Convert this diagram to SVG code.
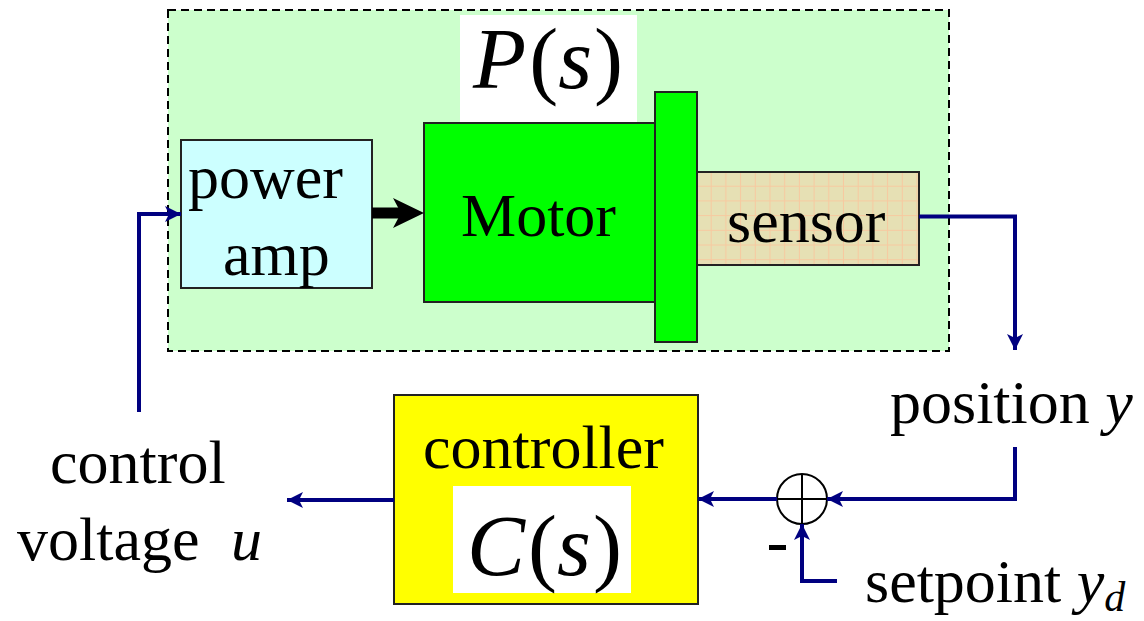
<svg xmlns="http://www.w3.org/2000/svg" width="1144" height="621" viewBox="0 0 1144 621">
<style>
text{font-family:'Liberation Serif','Times New Roman',serif;fill:#000}
.t{font-size:62px}
.m{font-size:87px}
.i{font-style:italic}
.box{stroke:#222;stroke-width:2}
.conn{fill:none;stroke:#000080;stroke-width:4}
</style>
<defs>
<pattern id="grid" width="14.7" height="14.7" patternUnits="userSpaceOnUse" x="697" y="172">
<rect width="14.7" height="14.7" fill="#e6e0b4"/>
<path d="M14.2 0V14.7M0 14.2H14.7" stroke="#f7c9a0" stroke-width="1" fill="none"/>
</pattern>
<marker id="ah" markerWidth="16" markerHeight="16" viewBox="0 0 16 16" refX="16" refY="8" orient="auto" markerUnits="userSpaceOnUse">
<path d="M0 0L16 8L0 16L4 8Z" fill="#000080"/>
</marker>
</defs>
<rect width="1144" height="621" fill="#fff"/>
<g id="plant">
<rect x="168" y="10" width="781" height="341" fill="#ccffcc" stroke="#000" stroke-width="2" stroke-dasharray="8,5"/>
<rect x="460" y="15" width="177" height="107" fill="#fff"/>
<text class="m" x="473" y="88"><tspan class="i">P</tspan><tspan dx="3">(</tspan><tspan class="i">s</tspan><tspan dx="2">)</tspan></text>
</g>
<g id="power-amp">
<rect class="box" x="181" y="140" width="191" height="148" fill="#ccffff"/>
<text class="t" x="188" y="198">power</text>
<text class="t" x="223" y="275">amp</text>
</g>
<g id="motor">
<rect class="box" x="424" y="123" width="231" height="179" fill="#00ff00"/>
<text class="t" x="461" y="236">Motor</text>
</g>
<g id="flange">
<rect class="box" x="655" y="92" width="42" height="250" fill="#00ff00"/>
</g>
<g id="sensor">
<rect class="box" x="697" y="172" width="222" height="93" fill="url(#grid)"/>
<text class="t" x="727" y="242">sensor</text>
</g>
<g id="controller">
<rect class="box" x="394" y="395" width="304" height="209" fill="#ffff00"/>
<text class="t" x="423" y="468">controller</text>
<rect x="453" y="486" width="178" height="107" fill="#fff"/>
<text class="m" x="467" y="575"><tspan class="i">C</tspan><tspan dx="3">(</tspan><tspan class="i">s</tspan><tspan dx="2">)</tspan></text>
</g>
<g id="sum">
<circle cx="802" cy="499" r="25" fill="#fff" stroke="#000" stroke-width="2"/>
<path d="M777 499H827M802 474V524" stroke="#000" stroke-width="2"/>
<rect x="769" y="545" width="17" height="5" fill="#000"/>
</g>
<g id="labels">
<text class="t" x="890" y="423">position <tspan class="i">y</tspan></text>
<text class="t" x="865" y="602">setpoint <tspan class="i">y</tspan><tspan class="i" font-size="42" dy="9">d</tspan></text>
<text class="t" x="50" y="483">control</text>
<text class="t" x="17" y="560">voltage <tspan class="i" dx="16">u</tspan></text>
</g>
<g id="connectors">
<path d="M372 213H405" stroke="#000" stroke-width="11"/>
<path d="M393 198L424 213L393 228L401 213Z" fill="#000"/>
<path class="conn" d="M919 216.5H1015V350" marker-end="url(#ah)"/>
<path class="conn" d="M1015 447V499H827" marker-end="url(#ah)"/>
<path class="conn" d="M777 499H698" marker-end="url(#ah)"/>
<path class="conn" d="M837 581H802V524" marker-end="url(#ah)"/>
<path class="conn" d="M394 500H287" marker-end="url(#ah)"/>
<path class="conn" d="M139 412V214H181" marker-end="url(#ah)"/>
</g>
</svg>
